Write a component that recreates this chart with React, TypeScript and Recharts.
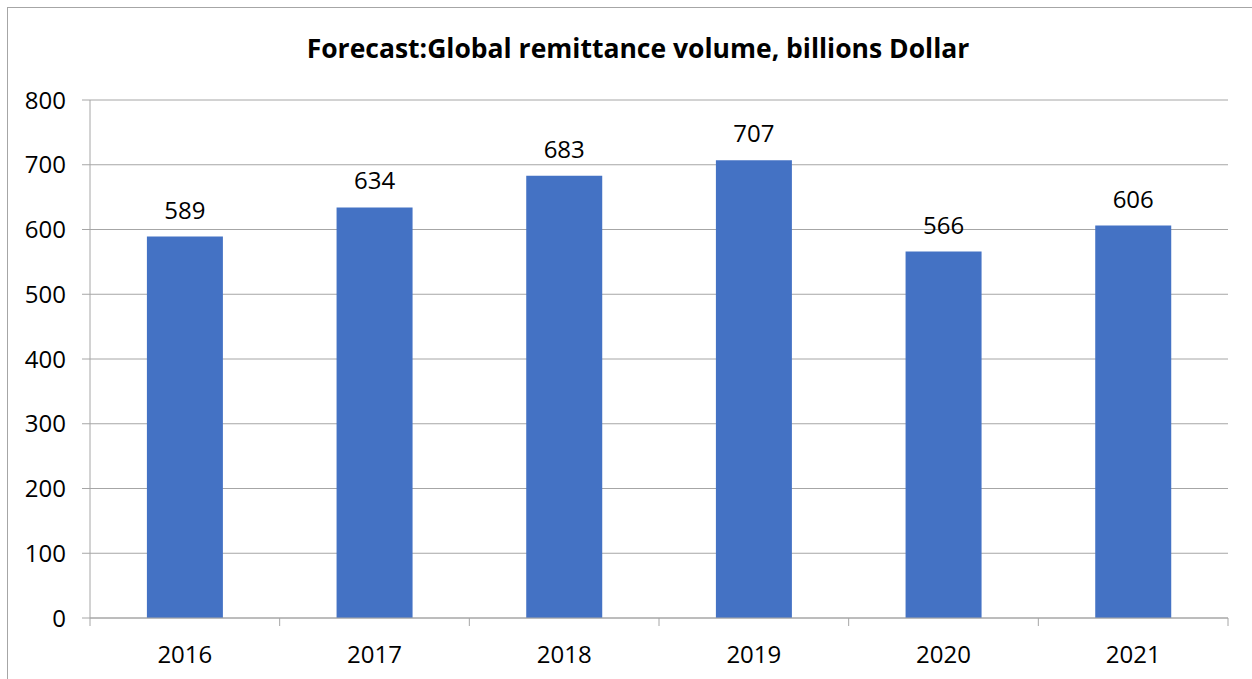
import React from 'react';
import { BarChart, Bar, XAxis, YAxis, CartesianGrid, LabelList } from 'recharts';

// ── Datos ────────────────────────────────────────────────────────────────────
const YEARS = ['2016', '2017', '2018', '2019', '2020', '2021'];
const VOLUMES = [589, 634, 683, 707, 566, 606];
const Y_TICKS = [0, 100, 200, 300, 400, 500, 600, 700, 800];

const BAR_COLOR = '#4472C4';
const AXIS_COLOR = '#a6a6a6';
const FONT = '"Open Sans", "Noto Sans", sans-serif';
const FS = 24;

const data = YEARS.map((year, i) => ({ year, value: VOLUMES[i] }));

// Tick del eje X: marca en los bordes de cada categoría, etiqueta al centro
const XTick = (props: any) => {
  const { x, y, payload, index } = props;
  const half = payload?.offset ?? 0;
  const last = index === YEARS.length - 1;
  return (
    <g>
      <line x1={x - half} y1={y} x2={x - half} y2={y + 8} stroke={AXIS_COLOR} />
      {last && <line x1={x + half} y1={y} x2={x + half} y2={y + 8} stroke={AXIS_COLOR} />}
      <text x={x} y={y + 28} dy="0.71em" textAnchor="middle" fontSize={FS} fontFamily={FONT} fill="#000">
        {payload.value}
      </text>
    </g>
  );
};

export default function App() {
  return (
    <div
      style={{
        position: 'absolute', left: 7, top: 7, width: 1260, height: 690,
        border: `1px solid ${AXIS_COLOR}`, background: '#fff', fontFamily: FONT,
      }}
    >
      <div
        style={{
          position: 'absolute', top: 22, left: 0, width: '100%', textAlign: 'center',
          fontWeight: 700, fontSize: 26.5, lineHeight: '36px', color: '#000',
        }}
      >
        Forecast:Global remittance volume, billions Dollar
      </div>
      <BarChart
        width={1260}
        height={690}
        data={data}
        margin={{ top: 92, right: 40, bottom: 30, left: 0 }}
        barCategoryGap="30%"
      >
        <CartesianGrid vertical={false} stroke={AXIS_COLOR} />
        <XAxis
          dataKey="year"
          stroke={AXIS_COLOR}
          tickLine={false}
          tickSize={0}
          tickMargin={0}
          height={50}
          tick={<XTick />}
          interval={0}
        />
        <YAxis
          domain={[0, 800]}
          ticks={Y_TICKS}
          width={82}
          stroke={AXIS_COLOR}
          tickSize={8}
          tickMargin={16}
          tick={{ fontSize: FS, fill: '#000', fontFamily: FONT }}
        />
        <Bar dataKey="value" fill={BAR_COLOR} isAnimationActive={false}>
          <LabelList dataKey="value" position="top" offset={18} fontSize={FS} fill="#000" fontFamily={FONT} />
        </Bar>
      </BarChart>
    </div>
  );
}
